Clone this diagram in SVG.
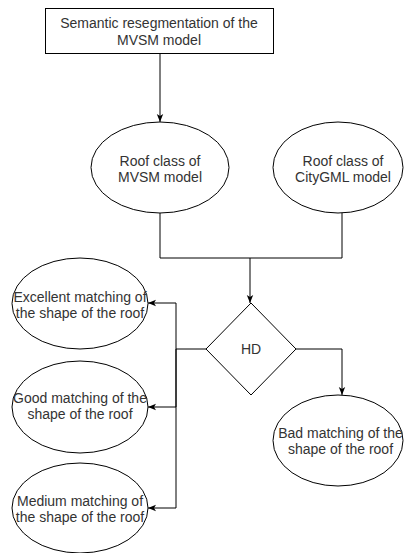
<svg xmlns="http://www.w3.org/2000/svg" width="404" height="553" viewBox="0 0 404 553">
<style>
.shape{fill:#fff;stroke:#000;stroke-width:1}
.conn{fill:none;stroke:#000;stroke-width:1}
text{font-family:"Liberation Sans",Arial,sans-serif;font-size:14px;fill:#333;text-anchor:middle}
</style>
<defs>
<marker id="arr" viewBox="0 0 10 10" refX="10" refY="5" markerWidth="8" markerHeight="8" markerUnits="userSpaceOnUse" orient="auto">
<path d="M0,1 L10,5 L0,9 L2.5,5 z" fill="#000"/>
</marker>
</defs>
<rect width="404" height="553" fill="#fff"/>
<g id="connectors">
<path class="conn" d="M160,53 L160,122" marker-end="url(#arr)"/>
<path class="conn" d="M160,213 L160,258 L342,258 L342,213"/>
<path class="conn" d="M250,258 L250,303" marker-end="url(#arr)"/>
<path class="conn" d="M206,349 L176,349"/>
<path class="conn" d="M176,349 L176,303 L148,303" marker-end="url(#arr)"/>
<path class="conn" d="M176,349 L176,407 L148,407" marker-end="url(#arr)"/>
<path class="conn" d="M176,349 L176,508 L148,508" marker-end="url(#arr)"/>
<path class="conn" d="M296,349 L342,349 L342,395" marker-end="url(#arr)"/>
</g>
<g id="start">
<rect class="shape" x="45.5" y="8.5" width="228" height="45"/>
<text x="159" y="28">Semantic resegmentation of the</text>
<text x="159" y="45">MVSM model</text>
</g>
<g id="roof-mvsm">
<ellipse class="shape" cx="160" cy="167.5" rx="69" ry="45.5"/>
<text x="160" y="166">Roof class of</text>
<text x="160" y="182">MVSM model</text>
</g>
<g id="roof-citygml">
<ellipse class="shape" cx="338" cy="167.5" rx="65" ry="45.5"/>
<text x="343" y="166">Roof class of</text>
<text x="343" y="182">CityGML model</text>
</g>
<g id="hd">
<path class="shape" d="M251,303 L296,349 L251,395 L206,349 Z"/>
<text x="251" y="354">HD</text>
</g>
<g id="excellent">
<ellipse class="shape" cx="80" cy="303.5" rx="68" ry="45.5"/>
<text x="80" y="302">Excellent matching of</text>
<text x="80" y="318">the shape of the roof</text>
</g>
<g id="good">
<ellipse class="shape" cx="80" cy="407" rx="68" ry="46"/>
<text x="80" y="403">Good matching of the</text>
<text x="80" y="419">shape of the roof</text>
</g>
<g id="medium">
<ellipse class="shape" cx="80" cy="508" rx="68" ry="45"/>
<text x="80" y="506">Medium matching of</text>
<text x="80" y="522">the shape of the roof</text>
</g>
<g id="bad">
<ellipse class="shape" cx="338" cy="440.5" rx="65" ry="45.5"/>
<text x="340.5" y="438">Bad matching of the</text>
<text x="340.5" y="454">shape of the roof</text>
</g>
</svg>
